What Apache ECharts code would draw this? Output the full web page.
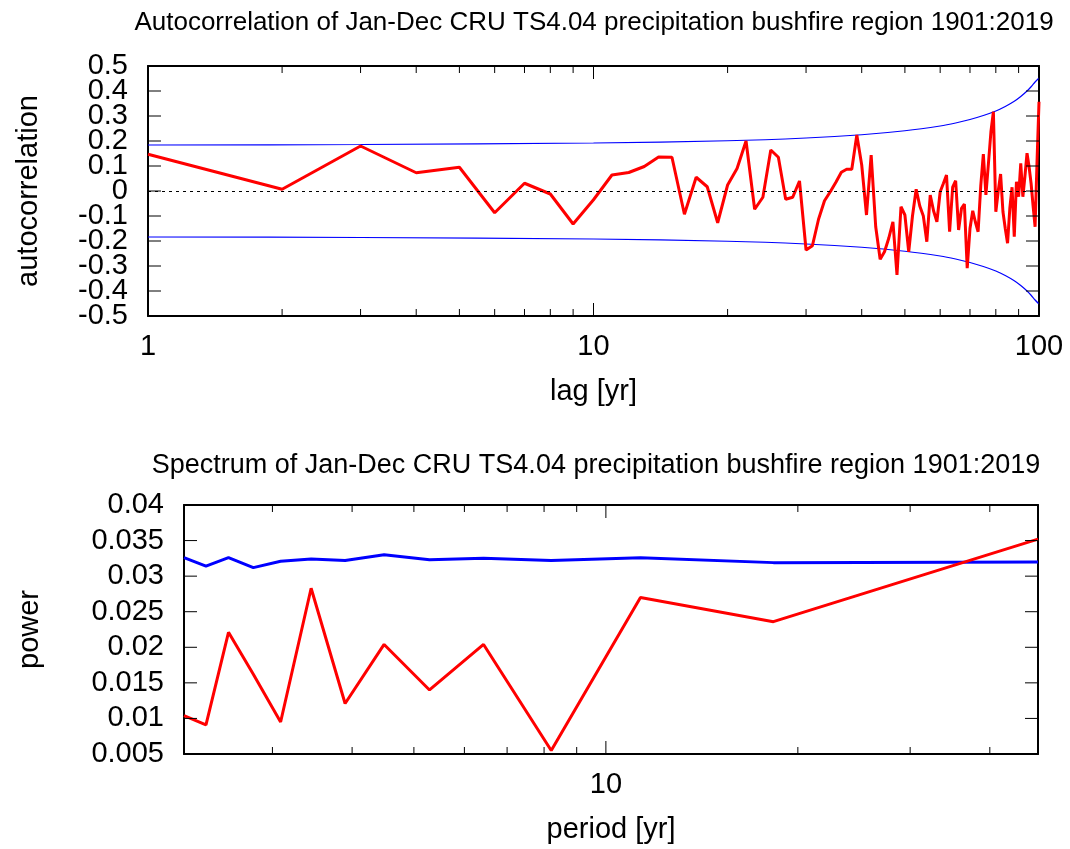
<!DOCTYPE html>
<html>
<head>
<meta charset="utf-8">
<script src="https://cdn.jsdelivr.net/npm/echarts@6/dist/echarts.min.js"></script>
<style>
  html, body { margin: 0; padding: 0; background: #fff; }
  #main { width: 1070px; height: 849px; }
</style>
</head>
<body>
<div id="main"></div>
<script>
// autocorrelation, lags 1..100
var lags = [];
for (var k = 1; k <= 100; k++) lags.push(k);
var acf = [
  0.147, 0.007, 0.180, 0.073, 0.095, -0.087, 0.031, -0.012, -0.132, -0.035,
  0.064, 0.074, 0.098, 0.136, 0.135, -0.093, 0.055, 0.017, -0.127, 0.024,
  0.090, 0.200, -0.073, -0.025, 0.164, 0.135, -0.033, -0.025, 0.040, -0.236,
  -0.219, -0.113, -0.039, -0.003, 0.035, 0.075, 0.087, 0.087, 0.224, 0.104,
  -0.096, 0.144, -0.143, -0.273, -0.243, -0.189, -0.123, -0.336, -0.063, -0.096,
  -0.243, -0.100, 0.007, -0.060, -0.100, -0.203, -0.016, -0.080, -0.123, -0.003,
  0.030, 0.064, -0.163, 0.015, 0.041, -0.156, -0.069, -0.052, -0.309, -0.150,
  -0.079, -0.125, -0.163, 0.020, 0.148, -0.016, 0.110, 0.237, 0.317, -0.083,
  0.000, 0.068, -0.083, -0.150, -0.209, -0.070, 0.015, -0.183, 0.037, -0.023,
  0.111, -0.023, 0.060, 0.151, 0.097, 0.030, -0.060, -0.143, 0.120, 0.357
];

// significance band (blue curves)
var bandLags = [1, 3, 10, 20, 30, 40, 50, 60, 65, 70, 75, 80, 84, 88, 91, 94, 96, 98, 100];
var bandUpper = [0.184, 0.186, 0.192, 0.201, 0.212, 0.225, 0.241, 0.260, 0.272, 0.286,
                 0.302, 0.320, 0.338, 0.359, 0.378, 0.400, 0.417, 0.436, 0.452];
var bandLower = [-0.184, -0.186, -0.192, -0.201, -0.212, -0.225, -0.241, -0.260, -0.272, -0.286,
                 -0.302, -0.320, -0.338, -0.359, -0.378, -0.400, -0.417, -0.436, -0.452];

// spectrum
var periods = [2.18, 2.36, 2.56, 2.80, 3.09, 3.45, 3.90, 4.49, 5.29, 6.43, 8.21, 11.33, 18.31, 47.6];
var power = [0.0104, 0.0091, 0.0221, 0.0162, 0.0095, 0.0283, 0.0121, 0.0204, 0.0140, 0.0204,
             0.0055, 0.0270, 0.0236, 0.0352];
var powerRef = [0.0326, 0.0314, 0.0326, 0.0312, 0.0321, 0.0324, 0.0322, 0.0330, 0.0323, 0.0325,
                0.0322, 0.0326, 0.0319, 0.0320];

// tick values
var acfYTicks = [-0.5, -0.4, -0.3, -0.2, -0.1, 0, 0.1, 0.2, 0.3, 0.4, 0.5];
var acfYLabelsA = [-0.5, -0.3, -0.1, 0.1, 0.3, 0.5];
var acfYLabelsB = [-0.4, -0.2, 0, 0.2, 0.4];
var powYTicks = [0.005, 0.01, 0.015, 0.02, 0.025, 0.03, 0.035, 0.04];
var acfMajor = [1, 10, 100];
var acfMinor = [2, 3, 4, 5, 6, 7, 8, 9, 20, 30, 40, 50, 60, 70, 80, 90];
var powMajor = [10];
var powMinor = [3, 4, 5, 6, 7, 8, 9, 20, 30, 40];

function pairs(xs, ys) {
    return xs.map(function (x, i) { return [x, ys[i]]; });
}

var FONT = 'Liberation Sans';
var fs = 29;

function logAxis(grid, min, max, pos, labels, name) {
    var a = {
        type: 'log',
        logBase: 10,
        gridIndex: grid,
        min: min,
        max: max,
        position: pos,
        axisLine: { show: true, onZero: false, lineStyle: { color: '#000', width: 2 } },
        splitLine: { show: false },
        axisTick: { show: false },
        axisLabel: { show: false }
    };
    if (labels) {
        a.axisLabel = {
            show: true, color: '#000', fontFamily: FONT, fontSize: fs, margin: 16,
            customValues: labels,
            formatter: function (v) { return String(Math.round(v)); }
        };
        a.name = name;
        a.nameLocation = 'middle';
        a.nameGap = 61;
        a.nameTextStyle = { color: '#000', fontFamily: FONT, fontSize: fs };
    }
    return a;
}

function valAxis(grid, ticks, pos, opts) {
    opts = opts || {};
    var a = {
        type: 'value',
        gridIndex: grid,
        min: ticks[0],
        max: ticks[ticks.length - 1],
        position: pos,
        axisLine: { show: !opts.bare, onZero: false, lineStyle: { color: '#000', width: 2 } },
        splitLine: { show: false },
        axisTick: { show: false },
        axisLabel: { show: false }
    };
    if (opts.labels) {
        a.axisLabel = {
            show: true, color: '#000', fontFamily: FONT, fontSize: fs, margin: 20,
            customValues: opts.labels
        };
    }
    if (opts.name) {
        a.name = opts.name;
        a.nameLocation = 'middle';
        a.nameGap = opts.gap;
        a.nameTextStyle = { color: '#000', fontFamily: FONT, fontSize: fs };
    }
    return a;
}

// inward tick marks on both opposite frame sides, placed through the axes
function xTicks(xi, yi, vals, yr, len) {
    return {
        type: 'custom', xAxisIndex: xi, yAxisIndex: yi, silent: true, clip: false, z: 10,
        data: vals.map(function (v) { return [v, yr[0]]; }),
        renderItem: function (params, api) {
            var v = api.value(0);
            var b = api.coord([v, yr[0]]);
            var t = api.coord([v, yr[1]]);
            var st = { stroke: '#000', lineWidth: 1 };
            return { type: 'group', children: [
                { type: 'line', shape: { x1: b[0], y1: b[1], x2: b[0], y2: b[1] - len }, style: st },
                { type: 'line', shape: { x1: t[0], y1: t[1], x2: t[0], y2: t[1] + len }, style: st }
            ] };
        }
    };
}
function yTicks(xi, yi, vals, xr, len) {
    return {
        type: 'custom', xAxisIndex: xi, yAxisIndex: yi, silent: true, clip: false, z: 10,
        data: vals.map(function (v) { return [xr[0], v]; }),
        renderItem: function (params, api) {
            var v = api.value(1);
            var l = api.coord([xr[0], v]);
            var r = api.coord([xr[1], v]);
            var st = { stroke: '#000', lineWidth: 1 };
            return { type: 'group', children: [
                { type: 'line', shape: { x1: l[0], y1: l[1], x2: l[0] + len, y2: l[1] }, style: st },
                { type: 'line', shape: { x1: r[0], y1: r[1], x2: r[0] - len, y2: r[1] }, style: st }
            ] };
        }
    };
}

var myChart = echarts.init(document.getElementById('main'));
var r0 = [1, 100];
var r1 = [periods[0], periods[periods.length - 1]];
var y0 = [acfYTicks[0], acfYTicks[acfYTicks.length - 1]];
var y1 = [powYTicks[0], powYTicks[powYTicks.length - 1]];
var option = {
    backgroundColor: '#fff',
    animation: false,
    title: [{
        text: 'Autocorrelation of Jan-Dec CRU TS4.04 precipitation bushfire region 1901:2019',
        left: 589, top: 5, textAlign: 'center',
        textStyle: { color: '#000', fontFamily: FONT, fontSize: 26, fontWeight: 'normal' }
    }, {
        text: 'Spectrum of Jan-Dec CRU TS4.04 precipitation bushfire region 1901:2019',
        left: 591, top: 447, textAlign: 'center',
        textStyle: { color: '#000', fontFamily: FONT, fontSize: 27, fontWeight: 'normal' }
    }],
    grid: [
        { left: 148, top: 66, width: 891, height: 250 },
        { left: 184, top: 505, width: 854, height: 249 }
    ],
    xAxis: [
        logAxis(0, r0[0], r0[1], 'bottom', acfMajor, 'lag [yr]'),
        logAxis(0, r0[0], r0[1], 'top'),
        logAxis(1, r1[0], r1[1], 'bottom', powMajor, 'period [yr]'),
        logAxis(1, r1[0], r1[1], 'top')
    ],
    yAxis: [
        valAxis(0, acfYTicks, 'left', { labels: acfYLabelsA, name: 'autocorrelation', gap: 105 }),
        valAxis(0, acfYTicks, 'left', { labels: acfYLabelsB, bare: true }),
        valAxis(0, acfYTicks, 'right'),
        valAxis(1, powYTicks, 'left', { labels: powYTicks, name: 'power', gap: 140 }),
        valAxis(1, powYTicks, 'right')
    ],
    series: [{
        type: 'line', xAxisIndex: 0, yAxisIndex: 0,
        data: pairs(bandLags, bandUpper), smooth: 0.3,
        showSymbol: false, silent: true,
        lineStyle: { color: '#0000ff', width: 1.2 }
    }, {
        type: 'line', xAxisIndex: 0, yAxisIndex: 0,
        data: pairs(bandLags, bandLower), smooth: 0.3,
        showSymbol: false, silent: true,
        lineStyle: { color: '#0000ff', width: 1.2 }
    }, {
        type: 'line', xAxisIndex: 0, yAxisIndex: 0,
        data: pairs(lags, acf),
        showSymbol: false,
        lineStyle: { color: '#ff0000', width: 3 },
        markLine: {
            silent: true, symbol: 'none', label: { show: false },
            lineStyle: { color: '#000', width: 1, type: [3, 4] },
            data: [{ yAxis: 0 }]
        }
    }, {
        type: 'line', xAxisIndex: 2, yAxisIndex: 3,
        data: pairs(periods, powerRef),
        showSymbol: false,
        lineStyle: { color: '#0000ff', width: 3 }
    }, {
        type: 'line', xAxisIndex: 2, yAxisIndex: 3,
        data: pairs(periods, power),
        showSymbol: false,
        lineStyle: { color: '#ff0000', width: 3 }
    },
        xTicks(0, 0, acfMajor, y0, 13),
        xTicks(0, 0, acfMinor, y0, 7),
        yTicks(0, 0, acfYTicks, r0, 13),
        xTicks(2, 3, powMajor, y1, 13),
        xTicks(2, 3, powMinor, y1, 7),
        yTicks(2, 3, powYTicks, r1, 13)
    ]
};
myChart.setOption(option);
</script>
</body>
</html>
